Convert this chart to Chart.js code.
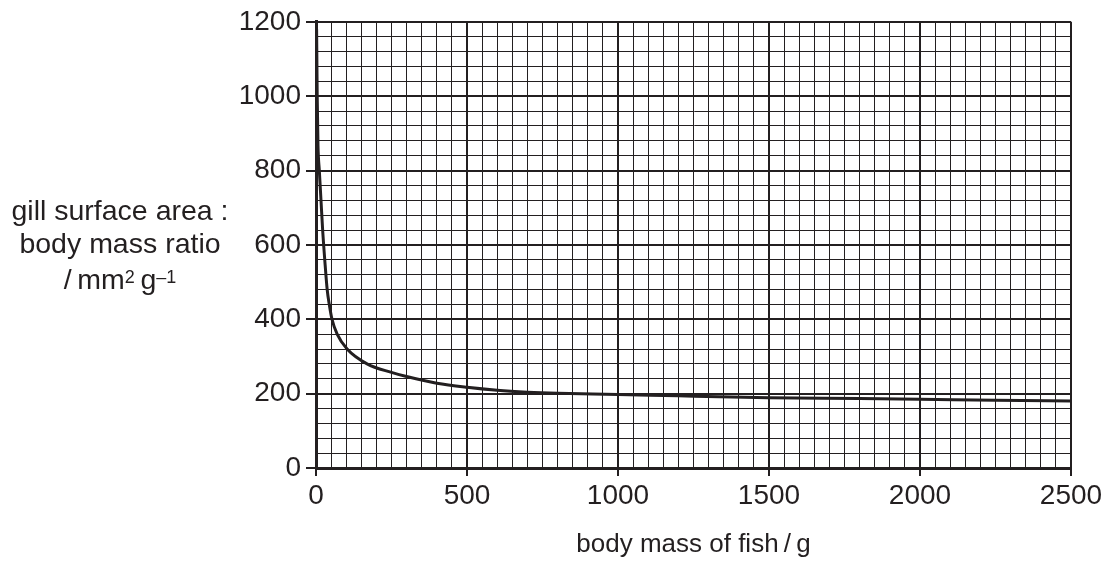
<!DOCTYPE html>
<html>
<head>
<meta charset="utf-8">
<script src="https://cdn.jsdelivr.net/npm/chart.js@4.4.1/dist/chart.umd.min.js"></script>
<style>
  body { margin: 0; background: #fff; }
  #wrap { position: relative; width: 1112px; height: 562px; }
  .ylab { position: absolute; left: 0; width: 240px; text-align: center;
          font-family: "Liberation Sans", Arial, sans-serif; font-size: 28.5px; color: #231f20;
          line-height: 30px; white-space: nowrap; }
  .sup { font-size: 18px; position: relative; top: -6px; }
</style>
</head>
<body>
<div id="wrap">
  <canvas id="chart"></canvas>
  <div class="ylab" style="top:195px">gill surface area :</div>
  <div class="ylab" style="top:228px">body mass ratio</div>
  <div class="ylab" style="top:264px">/&#8201;mm<span class="sup">2</span>&#8201;g<span class="sup">–1</span></div>
</div>
<script>
// curve
const bodyMass = [2, 4, 6.6, 11, 16.5, 22, 29, 37, 44, 53, 70, 103, 169, 250, 300, 400, 500, 600, 700, 800, 1000, 1200, 1500, 1800, 2000, 2250, 2500];
const gillRatio = [1180, 1000, 867, 800, 720, 640, 560, 480, 440, 400, 360, 320, 280, 257, 246, 228, 217, 209, 204, 201, 198, 194, 189, 187, 185, 182, 180];

const xTicks = [0, 500, 1000, 1500, 2000, 2500];
const yTicks = [0, 200, 400, 600, 800, 1000, 1200];

const ink = '#231f20';
const tickFont = {family: '"Liberation Sans", Arial, sans-serif', size: 28};
const titleFont = {family: '"Liberation Sans", Arial, sans-serif', size: 26};

const points = bodyMass.map((m, i) => ({x: m, y: gillRatio[i]}));

new Chart(document.getElementById('chart'), {
    type: 'line',
    data: {
        datasets: [{
            data: points,
            borderColor: ink,
            borderWidth: 3,
            pointRadius: 0,
            cubicInterpolationMode: 'monotone',
            fill: false
        }]
    },
    options: {
        responsive: true,
        maintainAspectRatio: false,
        animation: false,
        layout: {padding: {top: 14, right: 41, left: 0, bottom: 0}},
        plugins: {legend: {display: false}, tooltip: {enabled: false}},
        scales: {
            x: {
                type: 'linear',
                min: 0,
                max: 2500,
                afterFit: s => { s.height = 94; },
                ticks: {
                    stepSize: 50,
                    autoSkip: false,
                    maxRotation: 0,
                    color: ink,
                    font: tickFont,
                    padding: 3,
                    callback: v => xTicks.includes(v) ? String(v) : ''
                },
                grid: {
                    color: ink,
                    lineWidth: c => xTicks.includes(c.tick.value) ? 2 : 1,
                    tickLength: 8,
                    tickWidth: 2,
                    tickColor: c => xTicks.includes(c.tick.value) ? ink : 'transparent'
                },
                border: {color: ink, width: 3},
                title: {
                    display: true,
                    text: 'body mass of fish\u2009/\u2009g',
                    color: ink,
                    font: titleFont,
                    padding: {top: 0, bottom: 2}
                }
            },
            y: {
                type: 'linear',
                min: 0,
                max: 1200,
                afterFit: s => { s.width = 316; },
                ticks: {
                    stepSize: 40,
                    autoSkip: false,
                    color: ink,
                    font: tickFont,
                    padding: 5,
                    callback: v => yTicks.includes(v) ? String(v) : ''
                },
                grid: {
                    color: ink,
                    lineWidth: c => yTicks.includes(c.tick.value) ? 2 : 1,
                    tickLength: 10,
                    tickWidth: 2,
                    tickColor: c => yTicks.includes(c.tick.value) ? ink : 'transparent'
                },
                border: {color: ink, width: 3}
            }
        }
    }
});
</script>
</body>
</html>
